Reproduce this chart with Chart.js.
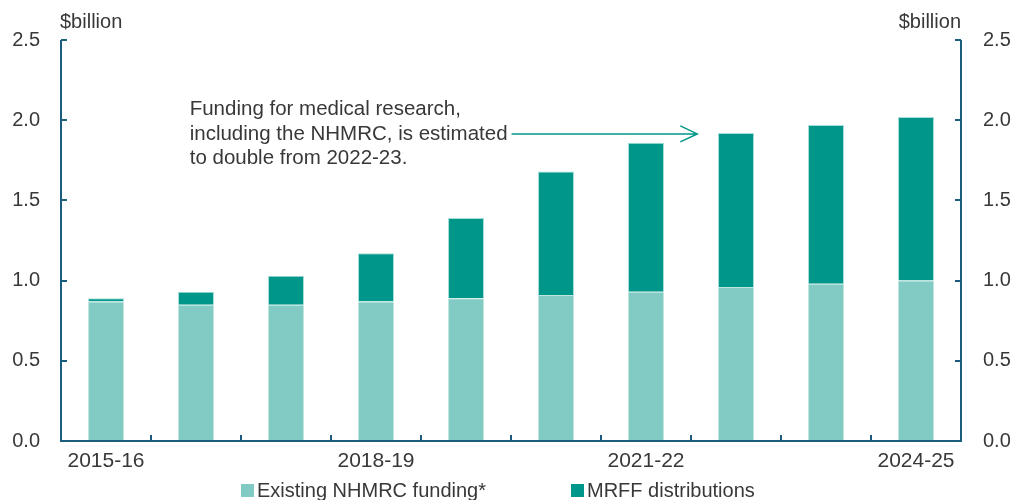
<!DOCTYPE html>
<html>
<head>
<meta charset="utf-8">
<script src="https://cdn.jsdelivr.net/npm/chart.js@4/dist/chart.umd.min.js"></script>
<style>
  html, body { margin: 0; padding: 0; background: #fff; }
  #wrap { width: 1014px; height: 500px; position: relative; }
</style>
</head>
<body>
<div id="wrap"><canvas id="fundingChart"></canvas></div>
<script>
// ------------------- Data ------------------- //
const years = ["2015-16", "2016-17", "2017-18", "2018-19", "2019-20",
               "2020-21", "2021-22", "2022-23", "2023-24", "2024-25"];
const shownYears = ["2015-16", "2018-19", "2021-22", "2024-25"];
const nhmrcFunding = [0.87, 0.85, 0.85, 0.87, 0.89, 0.91, 0.93, 0.96, 0.98, 1.00];
const mrffDistributions = [0.02, 0.08, 0.18, 0.30, 0.50, 0.77, 0.93, 0.96, 0.99, 1.02];
const yTicks = [0, 0.5, 1.0, 1.5, 2.0, 2.5];
const seriesNames = ["Existing NHMRC funding*", "MRFF distributions"];
const noteLines = [
  "Funding for medical research,",
  "including the NHMRC, is estimated",
  "to double from 2022-23."
];

// ------------------- Styles ------------------- //
const FONT = "'Liberation Sans', Arial, sans-serif";
const TEXT = "#383838";
const AXIS = "#1b5d7c";
const LIGHT = "#82cbc4";
const DARK = "#00978a";

// Draw axis lines, inward ticks, unit labels, the note and the legend
const decorPlugin = {
  id: "decor",
  afterDraw(chart) {
    const ctx = chart.ctx;
    const area = chart.chartArea;
    const x = chart.scales.x;
    const yl = chart.scales.y;
    ctx.save();
    ctx.strokeStyle = AXIS;
    ctx.lineWidth = 2;

    // axes frame (left, bottom, right)
    ctx.beginPath();
    ctx.moveTo(area.left, area.top);
    ctx.lineTo(area.left, area.bottom);
    ctx.lineTo(area.right, area.bottom);
    ctx.lineTo(area.right, area.top);
    ctx.stroke();

    // y ticks pointing inward
    yTicks.forEach(v => {
      const py = Math.round(yl.getPixelForValue(v));
      ctx.beginPath();
      ctx.moveTo(area.left, py);
      ctx.lineTo(area.left + 6, py);
      ctx.moveTo(area.right, py);
      ctx.lineTo(area.right - 6, py);
      ctx.stroke();
    });

    // x ticks between categories
    for (let i = 1; i < years.length; i++) {
      const px = Math.round((x.getPixelForValue(i - 1) + x.getPixelForValue(i)) / 2);
      ctx.beginPath();
      ctx.moveTo(px, area.bottom);
      ctx.lineTo(px, area.bottom - 6);
      ctx.stroke();
    }

    // unit labels
    ctx.fillStyle = TEXT;
    ctx.font = "20px " + FONT;
    ctx.textBaseline = "alphabetic";
    ctx.textAlign = "left";
    ctx.fillText("$billion", area.left - 1, 28);
    ctx.textAlign = "right";
    ctx.fillText("$billion", area.right, 28);

    // note with arrow
    const step = x.getPixelForValue(1) - x.getPixelForValue(0);
    const noteX = x.getPixelForValue(1) - step * 0.07;
    const noteY = yl.getPixelForValue(2.03);
    ctx.textAlign = "left";
    ctx.font = "20.5px " + FONT;
    noteLines.forEach((line, i) => ctx.fillText(line, noteX, noteY + i * 24.5));
    const w = ctx.measureText(noteLines[1]).width;
    const ay = noteY + 24.5 - 6;
    const tipX = x.getPixelForValue(7) - step * 0.43;
    ctx.strokeStyle = DARK;
    ctx.lineWidth = 1.5;
    ctx.beginPath();
    ctx.moveTo(noteX + w + 4, ay);
    ctx.lineTo(tipX, ay);
    ctx.moveTo(tipX - 17, ay - 8);
    ctx.lineTo(tipX, ay);
    ctx.lineTo(tipX - 17, ay + 8);
    ctx.stroke();

    // legend
    ctx.font = "20px " + FONT;
    const legendX = [241, 571];
    const colours = [LIGHT, DARK];
    seriesNames.forEach((name, i) => {
      ctx.fillStyle = colours[i];
      ctx.fillRect(legendX[i], 484, 13, 13);
      ctx.fillStyle = TEXT;
      ctx.fillText(name, legendX[i] + 16, 497);
    });
    ctx.restore();
  }
};

const yAxisCommon = {
  min: 0,
  max: 2.5,
  stacked: true,
  grid: { display: false, drawTicks: false },
  border: { display: false },
  afterBuildTicks(scale) {
    scale.ticks = yTicks.map(v => ({ value: v }));
  },
  ticks: {
    color: TEXT,
    font: { family: FONT, size: 20 },
    callback: v => Number(v).toFixed(1)
  }
};

new Chart(document.getElementById("fundingChart"), {
  type: "bar",
  data: {
    labels: years,
    datasets: [
      {
        label: seriesNames[0],
        data: nhmrcFunding,
        backgroundColor: LIGHT,
        borderColor: "#bfe5e0",
        borderWidth: 1,
        yAxisID: "y"
      },
      {
        label: seriesNames[1],
        data: mrffDistributions,
        backgroundColor: DARK,
        borderColor: "#a9ddd7",
        borderWidth: 1,
        yAxisID: "y"
      }
    ]
  },
  options: {
    responsive: true,
    maintainAspectRatio: false,
    animation: false,
    categoryPercentage: 1,
    barPercentage: 0.4,
    layout: { padding: { top: 40, left: 0, right: 0, bottom: 0 } },
    plugins: {
      legend: { display: false },
      tooltip: { enabled: false }
    },
    scales: {
      x: {
        stacked: true,
        offset: true,
        grid: { display: false, drawTicks: false },
        border: { display: false },
        ticks: {
          color: TEXT,
          font: { family: FONT, size: 21 },
          padding: 8,
          autoSkip: false,
          maxRotation: 0,
          callback: function (v) {
            const lab = this.getLabelForValue(v);
            return shownYears.includes(lab) ? lab : "";
          }
        },
        afterFit(scale) { scale.height = 59; }
      },
      y: Object.assign({}, yAxisCommon, {
        position: "left",
        ticks: Object.assign({}, yAxisCommon.ticks, { padding: 21 }),
        afterFit(scale) { scale.width = 61; }
      }),
      y2: Object.assign({}, yAxisCommon, {
        position: "right",
        ticks: Object.assign({}, yAxisCommon.ticks, { padding: 22 }),
        afterFit(scale) { scale.width = 53; }
      })
    }
  },
  plugins: [decorPlugin]
});
</script>
</body>
</html>
